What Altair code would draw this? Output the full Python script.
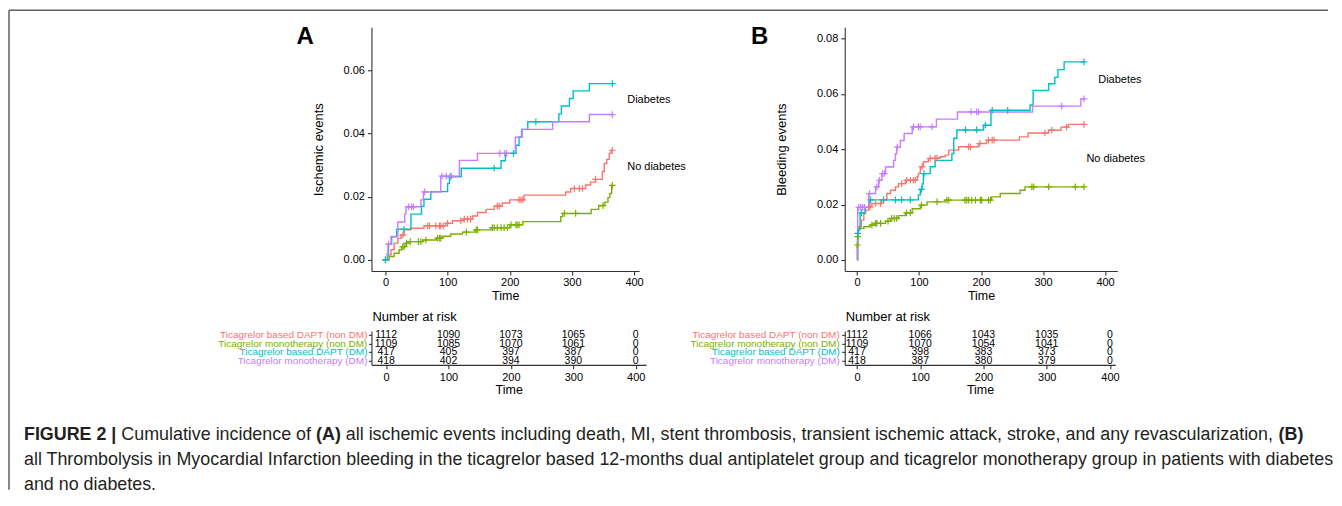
import altair as alt
import pandas as pd

FONT = "Liberation Sans"
GROUPS = ["Ticagrelor based DAPT (non DM)", "Ticagrelor monotherapy (non DM)",
          "Ticagrelor based DAPT (DM)", "Ticagrelor monotherapy (DM)"]
COLORS = ["#F8766D", "#7CAE00", "#00BFC4", "#C77CFF"]

# ---------------- Panel A: ischemic events ----------------
A_RED_T = [0, 4, 9, 14, 20, 25, 30, 41, 62, 97, 108, 125, 140, 148, 162, 175, 188, 200, 223, 290,
           298, 322, 330, 338, 349, 352, 356, 360, 363]
A_RED_V = [0, .0016, .0032, .0053, .0068, .0079, .0095, .0100, .0108, .0116, .0124, .0129, .0139, .0150,
           .0160, .0170, .0180, .0190, .0205, .0215, .0226, .0237, .0246, .0255, .0280, .0305, .0318, .0337, .0347]
A_RED_C = [28, 68, 71, 81, 87, 89, 93, 100, 121, 127, 132, 137, 180, 183, 215, 218, 221, 304, 312, 317, 338, 365]

A_GRN_T = [0, 6, 14, 22, 26, 33, 37, 60, 82, 92, 105, 124, 144, 170, 200, 221, 282, 285, 331, 343, 353, 358, 361, 364]
A_GRN_V = [0, .0011, .0021, .0032, .0042, .0053, .0058, .0063, .0069, .0075, .0082, .0088, .0095, .0102,
           .0111, .0121, .0137, .0147, .0160, .0172, .0183, .0197, .0210, .0236]
A_GRN_C = [0, 28, 30, 34, 40, 53, 57, 65, 84, 87, 89, 130, 146, 148, 172, 175, 180, 186, 191, 196, 202,
           210, 212, 215, 288, 306, 350, 365]

A_CYN_T = [0, 3, 5, 10, 18, 41, 58, 62, 73, 100, 103, 122, 186, 193, 210, 215, 219, 229, 279, 283, 296, 302, 328]
A_CYN_V = [0, .0020, .0050, .0073, .0097, .0145, .0170, .0192, .0216, .0242, .0263, .0290, .0314, .0337,
           .0363, .0389, .0413, .0437, .0462, .0487, .0511, .0535, .0558]
A_CYN_C = [0, 30, 104, 175, 206, 242, 365]

A_PUR_T = [0, 4, 9, 20, 31, 33, 57, 61, 89, 119, 148, 209, 220, 269, 328]
A_PUR_V = [0, .0050, .0074, .0120, .0145, .0168, .0190, .0215, .0265, .0315, .0337, .0388, .0413, .0437, .0460]
A_PUR_C = [5, 37, 42, 45, 63, 91, 98, 106, 184, 192, 195, 365]

# ---------------- Panel B: bleeding events ----------------
B_RED_T = [0, 1, 2, 3, 7, 11, 14, 19, 24, 40, 48, 54, 62, 67, 78, 97, 99, 102, 107, 115, 134, 142, 148,
           164, 196, 209, 262, 276, 309, 329, 341]
B_RED_V = [0, .0084, .0108, .0120, .0144, .0168, .0180, .0192, .0204, .0216, .0240, .0252, .0264, .0276,
           .0288, .0301, .0313, .0337, .0355, .0367, .0373, .0379, .0397, .0409, .0421, .0433, .0445,
           .0459, .0469, .0480, .0490]
B_RED_C = [21, 30, 38, 72, 80, 86, 91, 94, 105, 118, 126, 129, 180, 183, 198, 212, 218, 221, 303, 314, 338, 366]

B_GRN_T = [0, 0.5, 1, 2, 3, 11, 21, 28, 46, 54, 67, 78, 89, 102, 113, 142, 217, 231, 263, 271]
B_GRN_V = [0, .0054, .0084, .0105, .0114, .0120, .0126, .0132, .0140, .0150, .0160, .0170, .0185, .0198,
           .0210, .0216, .0228, .0240, .0252, .0264]
B_GRN_C = [0.5, 1, 24, 30, 32, 38, 50, 56, 60, 64, 80, 86, 104, 129, 145, 148, 174, 177, 180, 185, 191,
           199, 201, 212, 215, 282, 285, 309, 352, 366]

B_CYN_T = [0, 1, 2, 5, 13, 20, 99, 102, 105, 107, 118, 126, 153, 156, 161, 204, 216, 279, 284, 309, 319, 324, 334]
B_CYN_V = [0, .0096, .0110, .0170, .0190, .0217, .0235, .0255, .0275, .0312, .0337, .0360, .0385, .0440,
           .0470, .0487, .0541, .0560, .0613, .0637, .0660, .0688, .0716]
B_CYN_C = [1, 7, 22, 43, 62, 72, 86, 104, 108, 175, 193, 207, 218, 243, 366]

B_PUR_T = [0, 1, 19, 30, 35, 40, 46, 59, 62, 64, 70, 76, 89, 128, 162, 283, 361]
B_PUR_V = [0, .0190, .0240, .0264, .0288, .0312, .0336, .0360, .0384, .0408, .0432, .0457, .0481, .0509,
           .0535, .0556, .0582]
B_PUR_C = [3, 6, 9, 12, 20, 32, 36, 41, 44, 65, 91, 99, 102, 121, 184, 193, 196, 330, 366]

# ---------------- Number at risk ----------------
RISK_TIMES = [0, 100, 200, 300, 400]
A_RISK = [[1112, 1090, 1073, 1065, 0], [1109, 1085, 1070, 1061, 0], [417, 405, 397, 387, 0], [418, 402, 394, 390, 0]]
B_RISK = [[1112, 1066, 1043, 1035, 0], [1109, 1070, 1054, 1041, 0], [417, 398, 383, 373, 0], [418, 387, 380, 379, 0]]

X_TICKS = [0, 100, 200, 300, 400]
A_YTICKS = [0, 0.02, 0.04, 0.06]
B_YTICKS = [0, 0.02, 0.04, 0.06, 0.08]
A_NOTES = {"label": ["Diabetes", "No diabetes"], "t": [389, 389], "v": [0.0506, 0.0294]}
B_NOTES = {"label": ["Diabetes", "No diabetes"], "t": [389, 370], "v": [0.0650, 0.0364]}

CAPTION = [
    [("FIGURE 2 |", True), ("Cumulative incidence of", False), ("(A)", True),
     ("all ischemic events including death, MI, stent thrombosis, transient ischemic attack, stroke, and any revascularization,", False),
     ("(B)", True)],
    [("all Thrombolysis in Myocardial Infarction bleeding in the ticagrelor based 12-months dual antiplatelet group and ticagrelor monotherapy group in patients with diabetes", False)],
    [("and no diabetes.", False)],
]

# Arial / Liberation Sans advance widths (1/1000 em) for placing bold runs
REG = {" ": 278, ",": 278, ".": 278, "-": 333, "(": 333, ")": 333, "|": 260}
REG.update({c: 556 for c in "0123456789"})
REG.update(dict(zip("ABCDEFGHIJKLMNOPQRSTUVWXYZ",
                    [667, 667, 722, 722, 667, 611, 778, 722, 278, 500, 667, 556, 833, 722, 778, 667, 778, 722,
                     667, 611, 722, 667, 944, 667, 667, 611])))
REG.update(dict(zip("abcdefghijklmnopqrstuvwxyz",
                    [556, 556, 500, 556, 556, 278, 556, 556, 222, 222, 500, 222, 833, 556, 556, 556, 556, 333,
                     500, 278, 556, 500, 722, 500, 500, 500])))
BOLD = {" ": 278, "(": 333, ")": 333, "|": 280, "2": 556, "A": 722, "B": 722, "E": 667, "F": 611, "G": 778,
        "I": 278, "R": 722, "U": 722}


def text_width(s, fs, bold):
    table = BOLD if bold else REG
    return sum(table.get(c, 556) for c in s) / 1000.0 * fs


PLUS = "M-1,0L1,0M0,-1L0,1"
ONE = pd.DataFrame({"k": [0]})
color = alt.Color("group:N", scale=alt.Scale(domain=GROUPS, range=COLORS), legend=None)


def curves(spec, end):
    rows, cens = [], []
    for g, (T, V, C) in zip(GROUPS, spec):
        for t, v in zip(T, V):
            rows.append({"group": g, "t": t, "v": v})
        rows.append({"group": g, "t": end, "v": V[-1]})
        for c in C:
            i = max(k for k, t in enumerate(T) if t <= c)
            cens.append({"group": g, "t": c, "v": V[i]})
    return pd.DataFrame(rows), pd.DataFrame(cens)


def km(spec, end, xdom, ydom, yticks, ytitle, tpad, notes, letter, letter_x, w, h, extra=()):
    ldf, cdf = curves(spec, end)
    x = alt.X("t:Q", scale=alt.Scale(domain=xdom, nice=False, zero=False),
              axis=alt.Axis(values=X_TICKS, title="Time", tickSize=4, labelPadding=2, titlePadding=2,
                            labelFontSize=11, titleFontSize=12.5))
    y = alt.Y("v:Q", scale=alt.Scale(domain=ydom, nice=False, zero=False),
              axis=alt.Axis(values=yticks, format=".2f", title=ytitle, tickSize=4, labelPadding=3,
                            titlePadding=tpad, labelFontSize=11, titleFontSize=13))
    lines = alt.Chart(ldf).mark_line(interpolate="step-after", strokeWidth=1.4).encode(x=x, y=y, color=color)
    marks = alt.Chart(cdf).mark_point(shape=PLUS, filled=False, size=45, strokeWidth=1.2, opacity=1).encode(
        x=x, y=y, color=color)
    note = alt.Chart(pd.DataFrame(notes)).mark_text(align="left", baseline="middle", fontSize=11,
                                                     color="black").encode(x=x, y=y, text="label:N")
    lab = alt.Chart(ONE).mark_text(align="left", baseline="middle", fontSize=24, fontWeight="bold",
                                   color="black").encode(x=alt.value(letter_x), y=alt.value(10),
                                                         text=alt.value(letter))
    return alt.layer(lines, marks, note, lab, *extra).properties(width=w, height=h)


def table(risk, xdom, w, lab_x):
    rows = [{"group": g, "t": t, "n": str(n)} for g, ns in zip(GROUPS, risk) for t, n in zip(RISK_TIMES, ns)]
    df = pd.DataFrame(rows)
    x = alt.X("t:Q", scale=alt.Scale(domain=xdom, nice=False, zero=False),
              axis=alt.Axis(values=X_TICKS, title="Time", tickSize=4, labelPadding=3, titlePadding=1,
                            labelFontSize=11, titleFontSize=12.5))
    y = alt.Y("group:N", scale=alt.Scale(domain=GROUPS), axis=alt.Axis(labels=False, title=None, tickSize=3))
    nums = alt.Chart(df).mark_text(fontSize=10.5, baseline="middle", color="black").encode(x=x, y=y, text="n:N")
    labs = alt.Chart(pd.DataFrame({"group": GROUPS})).mark_text(align="right", baseline="middle",
                                                                fontSize=10).encode(
        x=alt.value(lab_x), y=y, text="group:N", color=color)
    ttl = alt.Chart(ONE).mark_text(align="left", baseline="middle", fontSize=13, color="black").encode(
        x=alt.value(1), y=alt.value(-14), text=alt.value("Number at risk"))
    return alt.layer(nums, labs, ttl).properties(width=w, height=34)


# frame and caption (pixel offsets relative to panel A's plot origin)
frame = [
    alt.Chart(ONE).mark_rule(color="#5f5f5f", strokeWidth=1.5).encode(
        x=alt.value(-363), x2=alt.value(958), y=alt.value(-17)),
    alt.Chart(ONE).mark_rule(color="#5f5f5f", strokeWidth=1.5).encode(
        x=alt.value(-363), y=alt.value(-17), y2=alt.value(463)),
]
CAP_FS = 17.9
CAP_X0 = -348
CAP_BASE = [413, 438, 463]
cap_layers = []
for line, base in zip(CAPTION, CAP_BASE):
    px = CAP_X0
    for txt, bold in line:
        cap_layers.append(
            alt.Chart(ONE).mark_text(align="left", baseline="alphabetic", fontSize=CAP_FS,
                                     fontWeight="bold" if bold else "normal", color="#231f20").encode(
                x=alt.value(px), y=alt.value(base), text=alt.value(txt)))
        px += text_width(txt, CAP_FS, bold) + REG[" "] / 1000.0 * CAP_FS

kmA = km([(A_RED_T, A_RED_V, A_RED_C), (A_GRN_T, A_GRN_V, A_GRN_C), (A_CYN_T, A_CYN_V, A_CYN_C),
          (A_PUR_T, A_PUR_V, A_PUR_C)], 365, [-22.5, 408], [-0.0035, 0.0736], A_YTICKS,
         "Ischemic events", 18, A_NOTES, "A", -75, 268, 244, extra=frame + cap_layers)
kmB = km([(B_RED_T, B_RED_V, B_RED_C), (B_GRN_T, B_GRN_V, B_GRN_C), (B_CYN_T, B_CYN_V, B_CYN_C),
          (B_PUR_T, B_PUR_V, B_PUR_C)], 366, [-19.8, 419.8], [-0.0040, 0.0841], B_YTICKS,
         "Bleeding events", 28, B_NOTES, "B", -94, 273, 244)
tabA = table(A_RISK, [-23.5, 416.5], 275, -4)
tabB = table(B_RISK, [-19.4, 408.4], 271, -5)

chart = alt.concat(kmA, kmB, tabA, tabB, columns=2, spacing={"row": 60, "column": 199},
                   bounds="flush", align="each").properties(
    padding={"left": 0, "top": 1, "right": 0, "bottom": 0}
).configure_view(strokeWidth=0).configure_axis(
    labelFont=FONT, titleFont=FONT, labelColor="black", titleColor="black", domainColor="#333333",
    tickColor="#333333", grid=False, titleFontWeight="normal", domainWidth=1.1, tickWidth=1.1
).configure_text(font=FONT)

chart.save("out.html", embed_options={"renderer": "svg", "actions": False})
